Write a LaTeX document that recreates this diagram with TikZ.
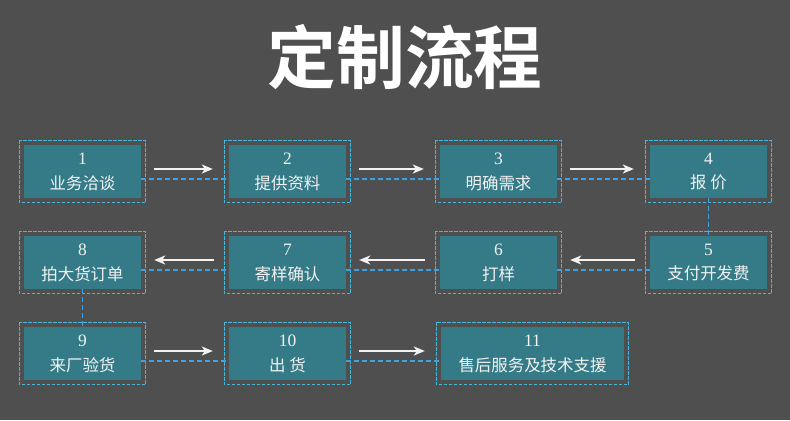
\documentclass[tikz,border=0pt]{standalone}
\usepackage{fontspec}
\setmainfont{Liberation Serif}
\newfontfamily\cjk{Noto Sans CJK SC}
\newfontfamily\cjktitle{Noto Sans CJK SC Bold}
\usetikzlibrary{arrows.meta}

\definecolor{bgGray}{HTML}{4F4F4F}
\definecolor{boxTeal}{HTML}{357B87}
\definecolor{frameCyan}{HTML}{45B8DC}
\definecolor{linkBlue}{HTML}{3CA3E0}
\definecolor{txtWhite}{HTML}{F2F2F2}

\tikzset{
  stepbox/.style={fill=boxTeal, text=txtWhite, minimum width=117bp,
    minimum height=53bp, inner sep=0pt, align=center,
    font=\fontsize{17.5}{25}\selectfont},
  frame/.style={draw=frameCyan, line width=1.2bp, dash pattern=on 3.5bp off 1.5bp},
  link/.style={draw=linkBlue, line width=1.6bp, dash pattern=on 5bp off 3bp},
  flow/.style={draw=txtWhite, line width=1.6bp, -{Stealth[length=11bp,width=9bp,inset=3bp]}}
}
\newcommand{\cn}[1]{{\cjk\fontsize{16.5}{25}\selectfont #1}}

\begin{document}
\begin{tikzpicture}[x=1bp,y=-1bp]
  \fill[bgGray] (0,0) rectangle (790,420);
  \useasboundingbox (0,0) rectangle (790,420);

  \node[text=white, font=\cjktitle\fontsize{69}{72}\selectfont] (title) at (405,57) {定制流程};

  % row 1
  \node[stepbox] (b1) at (82.5,171.5) {1\\\cn{业务洽谈}};
  \node[stepbox] (b2) at (287.5,171.5) {2\\\cn{提供资料}};
  \node[stepbox] (b3) at (498.5,171.5) {3\\\cn{明确需求}};
  \node[stepbox] (b4) at (708.5,171.5) {4\\\cn{报 价}};
  % row 2
  \node[stepbox] (b5) at (708.5,262.5) {5\\\cn{支付开发费}};
  \node[stepbox] (b6) at (498.5,262.5) {6\\\cn{打样}};
  \node[stepbox] (b7) at (287.5,262.5) {7\\\cn{寄样确认}};
  \node[stepbox] (b8) at (82.5,262.5) {8\\\cn{拍大货订单}};
  % row 3
  \node[stepbox] (b9) at (82.5,353.5) {9\\\cn{来厂验货}};
  \node[stepbox] (b10) at (287.5,353.5) {10\\\cn{出 货}};
  \node[stepbox, minimum width=183bp] (b11) at (532.5,353.5) {11\\\cn{售后服务及技术支援}};

  \foreach \bx in {b1,b2,b3,b4,b5,b6,b7,b8,b9,b10,b11}
    \draw[frame] ([shift={(-4.5bp,4.5bp)}]\bx.north west) rectangle ([shift={(4.5bp,-4.5bp)}]\bx.south east);

  % dashed links
  \foreach \a/\b in {b1/b2,b2/b3,b3/b4,b8/b7,b7/b6,b6/b5,b9/b10,b10/b11}
    \draw[link] ([yshift=-7.5bp]\a.east) -- ([yshift=-7.5bp]\b.west);
  \draw[link] (b4.south) -- (b5.north);
  \draw[link] (b8.south) -- (b9.north);

  % arrows
  \foreach \a/\b in {b1/b2,b2/b3,b3/b4,b9/b10,b10/b11}
    \draw[flow] ([xshift=13bp,yshift=2.5bp]\a.east) -- ([xshift=-16bp,yshift=2.5bp]\b.west);
  \foreach \a/\b in {b5/b6,b6/b7,b7/b8}
    \draw[flow] ([xshift=-15bp,yshift=2.5bp]\a.west) -- ([xshift=13bp,yshift=2.5bp]\b.east);
\end{tikzpicture}
\end{document}
